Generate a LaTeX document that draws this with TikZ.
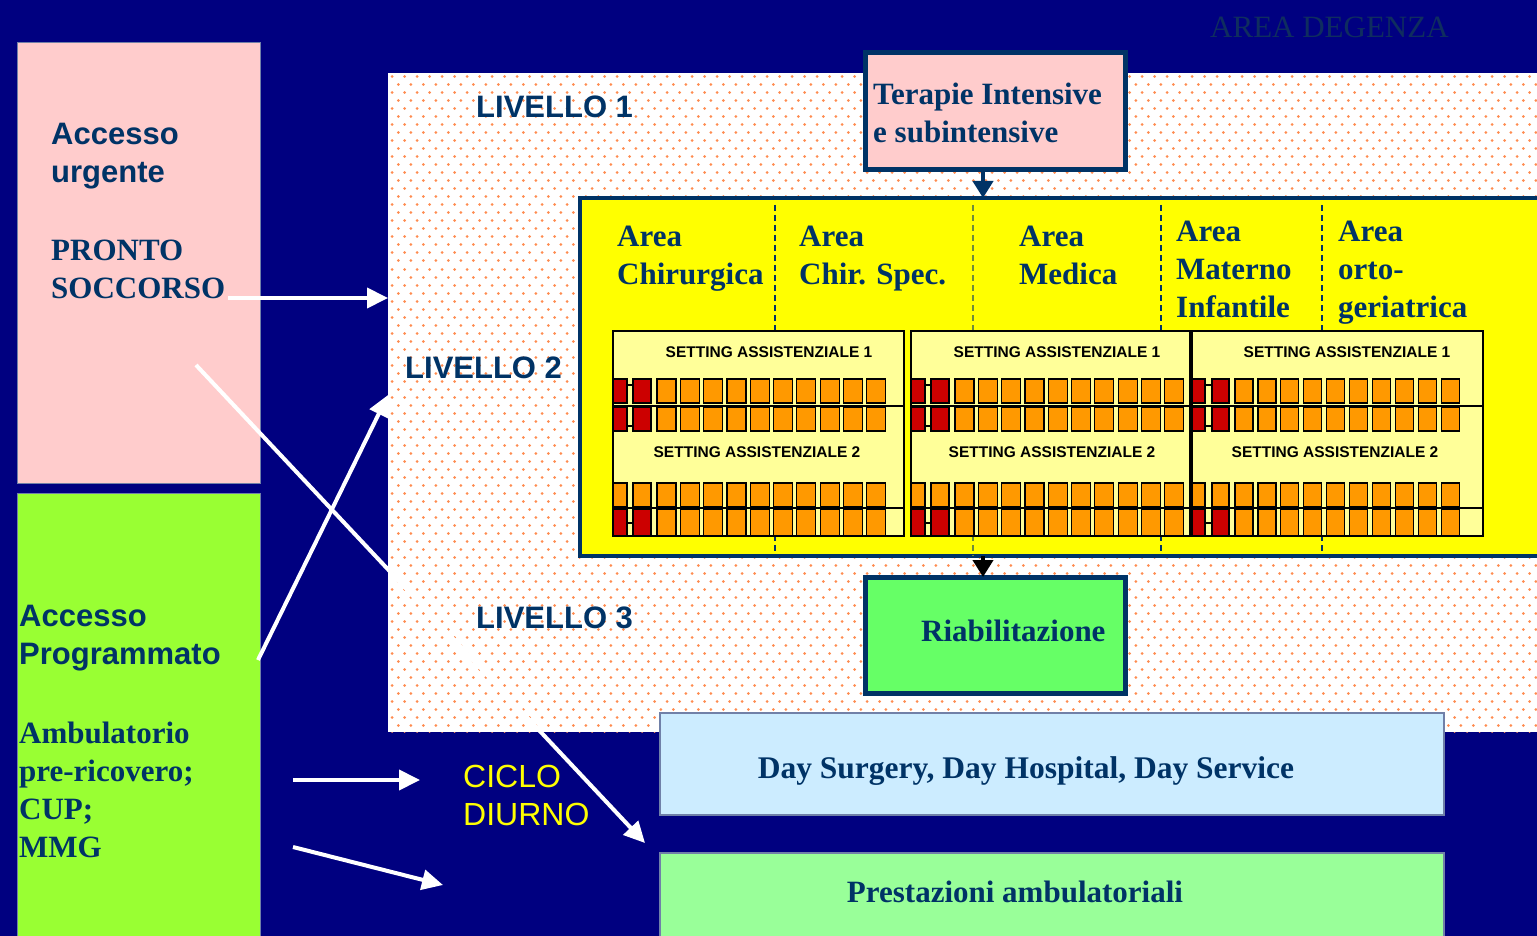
\documentclass[tikz,border=0pt]{standalone}
\usepackage{fontspec}
\setmainfont{Liberation Serif}
\setsansfont{Liberation Sans}
\usetikzlibrary{arrows.meta}
\definecolor{navybg}{HTML}{000080}
\definecolor{pinkbox}{HTML}{FFCCCC}
\definecolor{limebox}{HTML}{99FF33}
\definecolor{yellowbox}{HTML}{FFFF00}
\definecolor{paleyellow}{HTML}{FFFF99}
\definecolor{txtblue}{HTML}{003366}
\definecolor{riabgreen}{HTML}{66FF66}
\definecolor{daybluebox}{HTML}{CCECFF}
\definecolor{ambgreen}{HTML}{99FF99}
\definecolor{bedorange}{HTML}{FF9900}
\definecolor{bedred}{HTML}{CC0000}
\definecolor{dotorange}{RGB}{255,140,80}
\definecolor{olivedash}{HTML}{6E8C3A}
\definecolor{faintblue}{RGB}{15,45,95}
\definecolor{thinborder}{HTML}{7080A8}
\newcommand\fsz[1]{\fontsize{#1}{38}\selectfont}
\begin{document}
\begin{tikzpicture}[x=1pt,y=-1pt,
  region/.style={anchor=north west, inner sep=0pt, outer sep=0pt},
  serift/.style={font=\fsz{31}\bfseries\rmfamily, text=txtblue, inner sep=0pt, align=left, anchor=north west},
  sanst/.style={font=\fsz{31}\bfseries\sffamily, text=txtblue, inner sep=0pt, align=left, anchor=north west},
  settitle/.style={font=\fontsize{15.5}{18}\selectfont\bfseries\sffamily, text=black, inner sep=0pt, anchor=base},
  whitearrow/.style={draw=white, line width=4pt, -{Triangle[length=21pt,width=20pt]}},
  darkarrow/.style={line width=4pt, -{Triangle[length=17pt,width=20pt]}},
  sepdash/.style={line width=2pt, dash pattern=on 6pt off 4pt},
  dotline/.style={draw=dotorange, line width=3pt, line cap=round, dash pattern=on 0.01pt off 12.49pt},
  bed/.style={draw=black, line width=1.2pt}
]
\useasboundingbox (0,0) rectangle (1537,936);
\fill[navybg] (0,0) rectangle (1537,936);

% dotted area (levels)
\node[region, fill=white, minimum width=1160pt, minimum height=659pt] (dots) at (388,73) {};
\begin{scope}
  \clip (388,73) rectangle (1537,732);
  \foreach \r in {0,...,82} {
    \pgfmathsetmacro\yy{77+8*\r}
    \pgfmathsetmacro\xs{392+6.25*mod(\r,2)}
    \draw[dotline] (\xs,\yy) -- (1545,\yy);
  }
\end{scope}

% left access boxes
\node[region, fill=pinkbox, draw=thinborder, line width=1pt, minimum width=243pt, minimum height=440pt] (urgbox) at (17,43) {};
\node[region, fill=limebox, draw=thinborder, line width=1pt, minimum width=243pt, minimum height=450pt] (progbox) at (17,493) {};

% yellow area box
\node[region, fill=yellowbox, draw=txtblue, line width=4.5pt, minimum width=980pt, minimum height=358pt] (yellow) at (580,198) {};

% dashed separators
\draw[sepdash, txtblue] (775,205) -- (775,552);
\draw[sepdash, olivedash] (973,205) -- (973,556);
\draw[sepdash, txtblue] (1161,205) -- (1161,552);
\draw[sepdash, txtblue] (1322,205) -- (1322,552);

% setting boxes
\node[region, fill=paleyellow, draw=black, line width=1.2pt, minimum width=291pt, minimum height=205pt] (set1) at (613,331) {};
\node[region, fill=paleyellow, draw=black, line width=1.2pt, minimum width=279pt, minimum height=205pt] (set2) at (911,331) {};

% beds for box 1 and 2
\foreach \xo/\xr in {613/904, 911/1190} {
  \draw[black, line width=1.2pt] (\xo,406) -- (\xr,406);
  \draw[black, line width=1.2pt] (\xo,508) -- (\xr,508);
  \draw[black, line width=2.5pt] (\xo,508) -- (\xo+286,508);
  \foreach \ya/\yb in {379/403, 407/431} {
    \fill[bedred] (\xo,\ya) rectangle (\xo+14,\yb);
    \draw[bed] (\xo,\ya) rectangle (\xo+14,\yb);
    \draw[bed, fill=bedred] (\xo+20,\ya) rectangle (\xo+38,\yb);
    \foreach \i in {0,...,9} {
      \draw[bed, fill=bedorange] (\xo+44+23.3*\i,\ya) rectangle (\xo+63+23.3*\i,\yb);
    }
  }
  \draw[bed] (\xo+14,385) -- (\xo+20,385);
  \draw[bed] (\xo+14,426) -- (\xo+20,426);
  \draw[bed, fill=bedorange] (\xo,483) rectangle (\xo+14,507);
  \draw[bed, fill=bedorange] (\xo+20,483) rectangle (\xo+38,507);
  \draw[bed, fill=bedred] (\xo,509) rectangle (\xo+14,536);
  \draw[bed, fill=bedred] (\xo+20,509) rectangle (\xo+38,536);
  \draw[bed] (\xo+14,523) -- (\xo+20,523);
  \foreach \i in {0,...,9} {
    \draw[bed, fill=bedorange] (\xo+44+23.3*\i,483) rectangle (\xo+63+23.3*\i,507);
    \draw[bed, fill=bedorange] (\xo+44+23.3*\i,509) rectangle (\xo+63+23.3*\i,536);
  }
}

\node[region, fill=paleyellow, draw=black, line width=1.2pt, minimum width=291pt, minimum height=205pt] (set3) at (1192,331) {};
\foreach \xo/\xr in {1192/1483} {
  \draw[black, line width=1.2pt] (\xo,406) -- (\xr,406);
  \draw[black, line width=1.2pt] (\xo,508) -- (\xr,508);
  \draw[black, line width=2.5pt] (\xo,508) -- (\xo+272,508);
  \foreach \ya/\yb in {379/403, 407/431} {
    \draw[bed, fill=bedred] (\xo,\ya) rectangle (\xo+13,\yb);
    \draw[bed, fill=bedred] (\xo+20,\ya) rectangle (\xo+37,\yb);
    \foreach \i in {0,...,9} {
      \draw[bed, fill=bedorange] (\xo+43+22.9*\i,\ya) rectangle (\xo+61+22.9*\i,\yb);
    }
  }
  \draw[bed] (\xo+13,385) -- (\xo+20,385);
  \draw[bed] (\xo+13,426) -- (\xo+20,426);
  \draw[bed, fill=bedorange] (\xo,483) rectangle (\xo+13,507);
  \draw[bed, fill=bedorange] (\xo+20,483) rectangle (\xo+37,507);
  \draw[bed, fill=bedred] (\xo,509) rectangle (\xo+13,536);
  \draw[bed, fill=bedred] (\xo+20,509) rectangle (\xo+37,536);
  \draw[bed] (\xo+13,523) -- (\xo+20,523);
  \foreach \i in {0,...,9} {
    \draw[bed, fill=bedorange] (\xo+43+22.9*\i,483) rectangle (\xo+61+22.9*\i,507);
    \draw[bed, fill=bedorange] (\xo+43+22.9*\i,509) rectangle (\xo+61+22.9*\i,536);
  }
}

% setting titles
\node[settitle] (s1a) at (769,357.5) {SETTING ASSISTENZIALE 1};
\node[settitle] (s1b) at (757,457.5) {SETTING ASSISTENZIALE 2};
\node[settitle] (s2a) at (1057,357.5) {SETTING ASSISTENZIALE 1};
\node[settitle] (s2b) at (1052,457.5) {SETTING ASSISTENZIALE 2};
\node[settitle] (s3a) at (1347,357.5) {SETTING ASSISTENZIALE 1};
\node[settitle] (s3b) at (1335,457.5) {SETTING ASSISTENZIALE 2};

% other boxes
\node[region, fill=pinkbox, draw=txtblue, line width=5pt, minimum width=260pt, minimum height=117pt] (terapie) at (865,53) {};
\node[region, fill=riabgreen, draw=txtblue, line width=5pt, minimum width=260pt, minimum height=116pt] (riab) at (865,577) {};
\node[region, fill=daybluebox, draw=thinborder, line width=1.5pt, minimum width=784pt, minimum height=102pt] (daybox) at (660,713) {};
\node[region, fill=ambgreen, draw=thinborder, line width=1.5pt, minimum width=784pt, minimum height=90pt] (ambbox) at (660,853) {};

% texts
\node[sanst] (tUrg) at (51,123) {Accesso\\urgente};
\node[serift] (tPS) at (51,240) {PRONTO\\SOCCORSO};
\node[sanst] (tProg) at (19,605) {Accesso\\Programmato};
\node[serift] (tAmb) at (19,722) {Ambulatorio\\pre-ricovero;\\CUP;\\MMG};
\node[serift] (tTer) at (873,83) {Terapie Intensive\\e subintensive};
\node[serift] (tChir) at (617,226) {Area\\Chirurgica};
\node[serift] (tSpec) at (799,226) {Area\\Chir. Spec.};
\node[serift] (tMed) at (1019,226) {Area\\Medica};
\node[serift] (tMat) at (1176,221) {Area\\Materno\\Infantile};
\node[serift] (tOrto) at (1338,221) {Area\\orto-\\geriatrica};
\node[sanst] (lv1) at (476,96) {LIVELLO 1};
\node[sanst] (lv2) at (405,357) {LIVELLO 2};
\node[sanst] (lv3) at (476,607) {LIVELLO 3};
\node[font=\fsz{32}\sffamily, text=yellowbox, inner sep=0pt, align=left, anchor=north west] (ciclo) at (463,765) {CICLO\\DIURNO};
\node[serift] (tRiab) at (921,620) {Riabilitazione};
\node[font=\fsz{31.5}\bfseries\rmfamily, text=txtblue, inner sep=0pt, anchor=base] (tDay) at (1026,778) {Day Surgery, Day Hospital, Day Service};
\node[font=\fsz{31}\bfseries\rmfamily, text=txtblue, inner sep=0pt, anchor=base] (tAmbu) at (1015,902) {Prestazioni ambulatoriali};
\node[font=\fsz{31}\rmfamily, text=faintblue, inner sep=0pt, anchor=base west] (tDeg) at (1210,38) {AREA DEGENZA};

% dark arrows
\coordinate (axis) at (983,0);
\draw[darkarrow, draw=txtblue, fill=txtblue] (axis |- terapie.south) -- (axis |- yellow.north);
\draw[darkarrow, draw=black, fill=black] (axis |- yellow.south) -- (axis |- riab.north);

% white arrows
\coordinate (psOut) at (228,298);
\coordinate (progOut) at (258,660);
\coordinate (lv2In) at (388,395);
\coordinate (urgOut) at (196,365);
\coordinate (ambIn) at (645,843);
\coordinate (cicOut) at (293,780);
\coordinate (cicIn) at (420,780);
\coordinate (prsOut) at (293,847);
\coordinate (prsIn) at (443,885);
\draw[whitearrow] (psOut) -- (psOut -| dots.west);
\draw[whitearrow] (progOut) -- (lv2In);
\draw[whitearrow] (urgOut) -- (ambIn);
\draw[whitearrow] (cicOut) -- (cicIn);
\draw[whitearrow] (prsOut) -- (prsIn);
\end{tikzpicture}
\end{document}
